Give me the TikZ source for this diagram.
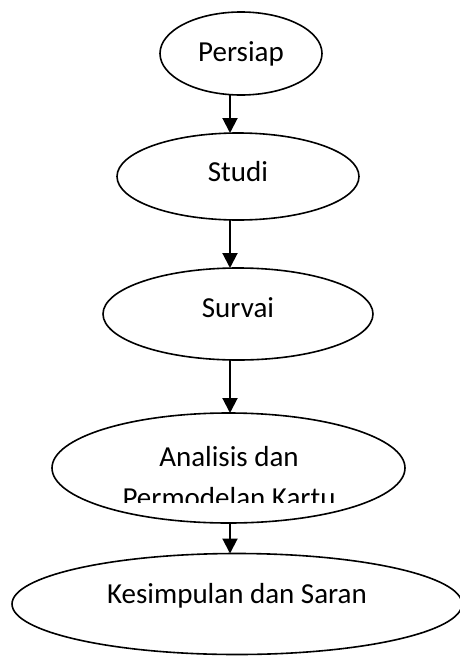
\documentclass[tikz,border=0pt]{standalone}
\usepackage{fontspec}
\setmainfont{Carlito}
\usepackage{tikz}
\usetikzlibrary{shapes.geometric, arrows.meta, positioning}

\begin{document}
\begin{tikzpicture}[
    x=1pt, y=-1pt,
    stage/.style={draw, ellipse, line width=1.6pt, inner sep=0pt, outer sep=0pt, font=\fontsize{29}{41}\selectfont},
    label text/.style={inner sep=0pt, anchor=base, font=\fontsize{29}{41}\selectfont},
    arrow/.style={-{Triangle[length=15pt, width=15pt]}, line width=2pt}
]
    \clip (0,0) rectangle (460,656);
    \coordinate (axis) at (230,0);

    % Stages
    \node[stage, minimum width=162pt, minimum height=83pt] (persiap) at (241,53.5) {Persiap};
    \node[stage, minimum width=242pt, minimum height=87pt, text depth=10pt] (studi) at (238,176.5) {Studi};
    \node[stage, minimum width=270pt, minimum height=92pt, text depth=13pt] (survai) at (238,314) {Survai};
    \node[stage, minimum width=353pt, minimum height=110pt] (analisis) at (228.5,468) {};
    \node[stage, minimum width=450pt, minimum height=101pt, text depth=21pt] (kesimpulan) at (237,604) {Kesimpulan dan Saran};

    % Text of the fourth stage, cut off at the bottom
    \node[label text] (analisis1) at (229,466) {Analisis dan};
    \begin{scope}
        \clip (0,0) rectangle (460,502);
        \node[label text] (analisis2) at (229,507) {Permodelan Kartu};
    \end{scope}

    % Connections
    \draw[arrow] (persiap.south -| axis) -- (studi.north -| axis);
    \draw[arrow] (studi.south -| axis) -- (survai.north -| axis);
    \draw[arrow] (survai.south -| axis) -- (analisis.north -| axis);
    \draw[arrow] (analisis.south -| axis) -- (kesimpulan.north -| axis);
\end{tikzpicture}
\end{document}
